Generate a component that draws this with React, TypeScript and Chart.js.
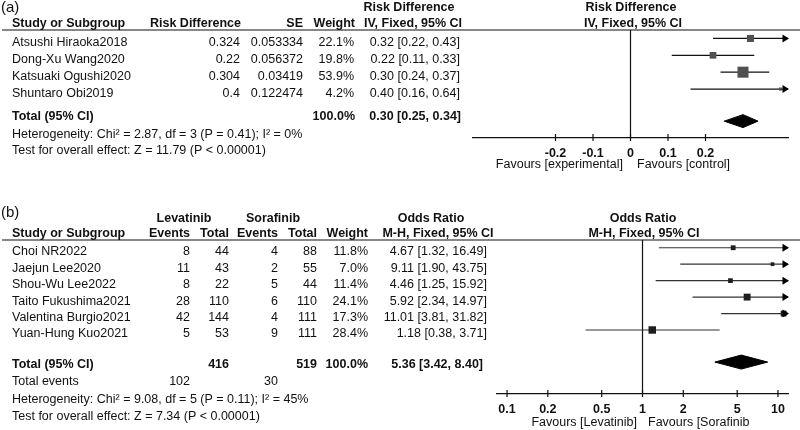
import React, { useEffect, useRef } from "react";
import { Chart, registerables } from "chart.js";
Chart.register(...registerables);

const FONT = "'Liberation Sans', Arial, Helvetica, sans-serif";
const FS = 12.5;

// ---------- Panel (a) data ----------
const studiesA = ["Atsushi Hiraoka2018", "Dong-Xu Wang2020", "Katsuaki Ogushi2020", "Shuntaro Obi2019"];
const rdA = [0.324, 0.22, 0.304, 0.4];
const seA = [0.053334, 0.056372, 0.03419, 0.122474];
const weightA = [22.1, 19.8, 53.9, 4.2];
const estA = [0.32, 0.22, 0.3, 0.4];
const lowA = [0.22, 0.11, 0.24, 0.16];
const highA = [0.43, 0.33, 0.37, 0.64];
const totalA = [0.3, 0.25, 0.34]; // est, low, high
const ticksA = [-0.2, -0.1, 0, 0.1, 0.2];
const rangeA = [-0.42, 0.42];

// ---------- Panel (b) data ----------
const studiesB = ["Choi NR2022", "Jaejun Lee2020", "Shou-Wu Lee2022", "Taito Fukushima2021", "Valentina Burgio2021", "Yuan-Hung Kuo2021"];
const levEvents = [8, 11, 8, 28, 42, 5];
const levTotal = [44, 43, 22, 110, 144, 53];
const sorEvents = [4, 2, 5, 6, 4, 9];
const sorTotal = [88, 55, 44, 110, 111, 111];
const weightB = [11.8, 7.0, 11.4, 24.1, 17.3, 28.4];
const orB = [4.67, 9.11, 4.46, 5.92, 11.01, 1.18];
const lowB = [1.32, 1.9, 1.25, 2.34, 3.81, 0.38];
const highB = [16.49, 43.75, 15.92, 14.97, 31.82, 3.71];
const totalB = [5.36, 3.42, 8.4];
const ticksB = [0.1, 0.2, 0.5, 1, 2, 5, 10];
const rangeB = [0.0843, 11.86];

const sum = (a: number[]) => a.reduce((s, v) => s + v, 0);
const ci = (e: number, l: number, h: number) => `${e.toFixed(2)} [${l.toFixed(2)}, ${h.toFixed(2)}]`;

type T = { t: string; x: number; y: number; a?: CanvasTextAlign; b?: boolean; s?: number };

function drawTexts(ctx: CanvasRenderingContext2D, items: T[]) {
  ctx.save();
  ctx.fillStyle = "#111";
  ctx.textBaseline = "middle";
  for (const it of items) {
    ctx.font = `${it.b ? "bold " : ""}${it.s || FS}px ${FONT}`;
    ctx.textAlign = it.a || "left";
    ctx.fillText(it.t, it.x, it.y);
  }
  ctx.restore();
}

function textsA(chart: any): T[] {
  const y = chart.scales.y;
  const out: T[] = [
    { t: "(a)", x: 1, y: 8, s: 15 },
    { t: "Risk Difference", x: 409, y: 8, a: "center", b: true },
    { t: "Risk Difference", x: 631, y: 8, a: "center", b: true },
    { t: "Study or Subgroup", x: 12, y: 24, b: true },
    { t: "Risk Difference", x: 241, y: 24, a: "right", b: true },
    { t: "SE", x: 303, y: 24, a: "right", b: true },
    { t: "Weight", x: 355, y: 24, a: "right", b: true },
    { t: "IV, Fixed, 95% CI", x: 413, y: 24, a: "center", b: true },
    { t: "IV, Fixed, 95% CI", x: 633, y: 24, a: "center", b: true },
    { t: "Total (95% CI)", x: 12, y: 117, b: true },
    { t: sum(weightA).toFixed(1) + "%", x: 355, y: 117, a: "right", b: true },
    { t: ci(totalA[0], totalA[1], totalA[2]), x: 461, y: 117, a: "right", b: true },
    { t: "Heterogeneity: Chi² = 2.87, df = 3 (P = 0.41); I² = 0%", x: 12, y: 135 },
    { t: "Test for overall effect: Z = 11.79 (P < 0.00001)", x: 12, y: 151 },
    { t: "Favours [experimental]", x: 623, y: 165, a: "right" },
    { t: "Favours [control]", x: 637, y: 165 },
  ];
  studiesA.forEach((s, i) => {
    const py = y.getPixelForValue(i) + 4.5;
    out.push({ t: s, x: 12, y: py });
    out.push({ t: String(rdA[i]), x: 240, y: py, a: "right" });
    out.push({ t: String(seA[i]), x: 303, y: py, a: "right" });
    out.push({ t: weightA[i].toFixed(1) + "%", x: 354, y: py, a: "right" });
    out.push({ t: ci(estA[i], lowA[i], highA[i]), x: 460, y: py, a: "right" });
  });
  return out;
}

function textsB(chart: any): T[] {
  const y = chart.scales.y;
  const out: T[] = [
    { t: "(b)", x: 1, y: 213, s: 15 },
    { t: "Levatinib", x: 184, y: 219, a: "center", b: true },
    { t: "Sorafinib", x: 273, y: 219, a: "center", b: true },
    { t: "Odds Ratio", x: 431, y: 219, a: "center", b: true },
    { t: "Odds Ratio", x: 643, y: 219, a: "center", b: true },
    { t: "Study or Subgroup", x: 12, y: 234, b: true },
    { t: "Events", x: 190, y: 234, a: "right", b: true },
    { t: "Total", x: 229, y: 234, a: "right", b: true },
    { t: "Events", x: 278, y: 234, a: "right", b: true },
    { t: "Total", x: 317, y: 234, a: "right", b: true },
    { t: "Weight", x: 368, y: 234, a: "right", b: true },
    { t: "M-H, Fixed, 95% CI", x: 438, y: 234, a: "center", b: true },
    { t: "M-H, Fixed, 95% CI", x: 644, y: 234, a: "center", b: true },
    { t: "Total (95% CI)", x: 12, y: 365, b: true },
    { t: String(sum(levTotal)), x: 229, y: 365, a: "right", b: true },
    { t: String(sum(sorTotal)), x: 317, y: 365, a: "right", b: true },
    { t: sum(weightB).toFixed(1) + "%", x: 368, y: 365, a: "right", b: true },
    { t: ci(totalB[0], totalB[1], totalB[2]), x: 483, y: 365, a: "right", b: true },
    { t: "Total events", x: 12, y: 382 },
    { t: String(sum(levEvents)), x: 190, y: 382, a: "right" },
    { t: String(sum(sorEvents)), x: 278, y: 382, a: "right" },
    { t: "Heterogeneity: Chi² = 9.08, df = 5 (P = 0.11); I² = 45%", x: 12, y: 400 },
    { t: "Test for overall effect: Z = 7.34 (P < 0.00001)", x: 12, y: 417 },
    { t: "Favours [Levatinib]", x: 637, y: 423, a: "right" },
    { t: "Favours [Sorafinib", x: 648, y: 423 },
  ];
  studiesB.forEach((s, i) => {
    const py = y.getPixelForValue(i) + 4;
    out.push({ t: s, x: 12, y: py });
    out.push({ t: String(levEvents[i]), x: 190, y: py, a: "right" });
    out.push({ t: String(levTotal[i]), x: 229, y: py, a: "right" });
    out.push({ t: String(sorEvents[i]), x: 278, y: py, a: "right" });
    out.push({ t: String(sorTotal[i]), x: 317, y: py, a: "right" });
    out.push({ t: weightB[i].toFixed(1) + "%", x: 368, y: py, a: "right" });
    out.push({ t: ci(orB[i], lowB[i], highB[i]), x: 487, y: py, a: "right" });
  });
  return out;
}

type Cfg = {
  xType: "linear" | "logarithmic";
  range: number[];
  ticks: number[];
  nullValue: number;
  est: number[];
  low: number[];
  high: number[];
  weight: number[];
  total: number[];
  totalRow: number;
  diamondHalf: number;
  yMin: number;
  yMax: number;
  padding: { left: number; right: number; top: number; bottom: number };
  squareK: number;
  squareColor: string;
  lineColor: string;
  texts: (c: any) => T[];
};

function makeForest(canvas: HTMLCanvasElement, cfg: Cfg) {
  const datasets: any[] = [];
  datasets.push({
    data: cfg.est.map((e, i) => ({ x: e, y: i })),
    showLine: false,
    pointStyle: "rect",
    pointRadius: cfg.weight.map((w) => (cfg.squareK * Math.sqrt(w)) / Math.SQRT2),
    pointBackgroundColor: cfg.squareColor,
    pointBorderWidth: 0,
    order: 0,
  });
  cfg.est.forEach((_, i) => {
    datasets.push({
      data: [
        { x: cfg.low[i], y: i },
        { x: cfg.high[i], y: i },
      ],
      showLine: true,
      borderColor: cfg.lineColor,
      borderWidth: 1.2,
      pointRadius: 0,
      order: 1,
    });
  });
  const [te, tl, th] = cfg.total;
  const r = cfg.totalRow;
  const h = cfg.diamondHalf;
  datasets.push({
    data: [
      { x: tl, y: r },
      { x: te, y: r - h },
      { x: th, y: r },
      { x: te, y: r + h },
      { x: tl, y: r },
    ],
    showLine: true,
    fill: "shape",
    backgroundColor: "#000",
    borderColor: "#000",
    borderWidth: 1,
    pointRadius: 0,
    tension: 0,
    order: 1,
  });

  const plugin = {
    id: "forestExtras",
    beforeDatasetsDraw(chart: any) {
      const { ctx, chartArea } = chart;
      const xs = chart.scales.x;
      ctx.save();
      ctx.strokeStyle = "#111";
      ctx.lineWidth = 1.2;
      ctx.beginPath();
      ctx.moveTo(2, chartArea.top);
      ctx.lineTo(800, chartArea.top);
      const nx = xs.getPixelForValue(cfg.nullValue);
      ctx.moveTo(nx, chartArea.top);
      ctx.lineTo(nx, chartArea.bottom);
      ctx.stroke();
      ctx.restore();
    },
    afterDraw(chart: any) {
      const { ctx, chartArea } = chart;
      const xs = chart.scales.x;
      const ys = chart.scales.y;
      ctx.save();
      ctx.fillStyle = "#000";
      cfg.high.forEach((hv, i) => {
        if (hv > xs.max) {
          const py = ys.getPixelForValue(i);
          const tip = chartArea.right + 1;
          ctx.beginPath();
          ctx.moveTo(tip, py);
          ctx.lineTo(tip - 6.5, py - 4);
          ctx.lineTo(tip - 6.5, py + 4);
          ctx.closePath();
          ctx.fill();
        }
      });
      ctx.strokeStyle = "#111";
      ctx.lineWidth = 1.2;
      ctx.beginPath();
      cfg.ticks.forEach((v) => {
        const px = xs.getPixelForValue(v);
        ctx.moveTo(px, chartArea.bottom - 4);
        ctx.lineTo(px, chartArea.bottom + 3);
      });
      ctx.stroke();
      ctx.restore();
      drawTexts(ctx, cfg.texts(chart));
    },
  };

  return new Chart(canvas, {
    type: "scatter",
    data: { datasets },
    options: {
      responsive: false,
      animation: false,
      events: [],
      devicePixelRatio: 1,
      layout: { padding: cfg.padding },
      plugins: { legend: { display: false }, tooltip: { enabled: false } },
      scales: {
        x: {
          type: cfg.xType,
          position: "bottom",
          min: cfg.range[0],
          max: cfg.range[1],
          afterBuildTicks: (s: any) => {
            s.ticks = cfg.ticks.map((v) => ({ value: v }));
          },
          afterFit: (s: any) => {
            s.height = 20;
          },
          grid: { display: true, drawOnChartArea: false, drawTicks: false },
          border: { display: true, color: "#111", width: 1.2 },
          ticks: {
            autoSkip: false,
            maxRotation: 0,
            minRotation: 0,
            padding: 8,
            color: "#111",
            font: { family: FONT, size: FS, weight: "bold" },
            callback: (v: any) => String(v),
          },
        },
        y: {
          type: "linear",
          reverse: true,
          min: cfg.yMin,
          max: cfg.yMax,
          display: false,
        },
      },
    },
    plugins: [plugin],
  } as any);
}

export default function App() {
  const refA = useRef<HTMLCanvasElement>(null);
  const refB = useRef<HTMLCanvasElement>(null);

  useEffect(() => {
    const a = makeForest(refA.current!, {
      xType: "linear",
      range: rangeA,
      ticks: ticksA,
      nullValue: 0,
      est: estA,
      low: lowA,
      high: highA,
      weight: weightA,
      total: totalA,
      totalRow: 4.9,
      diamondHalf: 0.385,
      yMin: -0.5,
      yMax: 5.9,
      padding: { left: 473, right: 12, top: 30, bottom: 272 },
      squareK: 1.5,
      squareColor: "#505050",
      lineColor: "#111",
      texts: textsA,
    });
    const b = makeForest(refB.current!, {
      xType: "logarithmic",
      range: rangeB,
      ticks: ticksB,
      nullValue: 1,
      est: orB,
      low: lowB,
      high: highB,
      weight: weightB,
      total: totalB,
      totalRow: 6.95,
      diamondHalf: 0.425,
      yMin: -0.47,
      yMax: 8.89,
      padding: { left: 497, right: 12, top: 240, bottom: 16 },
      squareK: 1.4,
      squareColor: "#1e1e1e",
      lineColor: "#333",
      texts: textsB,
    });
    return () => {
      a.destroy();
      b.destroy();
    };
  }, []);

  const cs: React.CSSProperties = { position: "absolute", left: 0, top: 0, width: 800, height: 430 };
  return (
    <div style={{ position: "absolute", left: 0, top: 0, width: 800, height: 430, background: "#fff" }}>
      <canvas ref={refA} width={800} height={430} style={cs} />
      <canvas ref={refB} width={800} height={430} style={cs} />
    </div>
  );
}
